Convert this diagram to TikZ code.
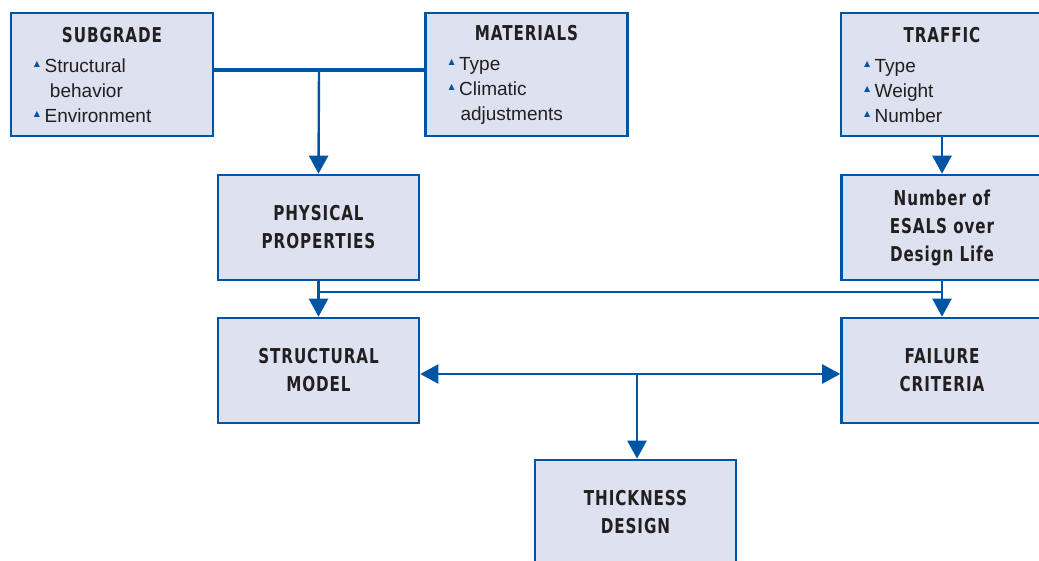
\documentclass[tikz,border=0pt]{standalone}
\usepackage{fontspec}
\setmainfont{Liberation Sans}
\newfontfamily\headfont[LetterSpace=6]{DejaVu Sans}
\newfontfamily\symfont{DejaVu Sans}
\usepackage{tikz}
\usetikzlibrary{arrows.meta}

\definecolor{edgeblue}{RGB}{0,84,164}
\definecolor{boxfill}{RGB}{221,225,240}
\definecolor{ink}{RGB}{35,31,32}

\newcommand{\head}[1]{\scalebox{0.74}[1]{\headfont\fontsize{20.5}{28}\selectfont\bfseries #1}}
\newcommand{\bul}{\raisebox{5.5pt}{\symfont\fontsize{8}{8}\selectfont\textcolor{edgeblue}{▲}}\hspace{4.5pt}}

\begin{document}
\begin{tikzpicture}[x=1pt, y=-1pt,
    box/.style={rectangle, draw=edgeblue, fill=boxfill, line width=2.6pt, text=ink, minimum width=201pt, minimum height=105pt, align=center, font=\fontsize{19}{28}\selectfont, inner sep=0pt},
    listbox/.style={box, minimum width=202pt, minimum height=123pt, align=left, text width=156pt, font=\fontsize{19}{25}\selectfont},
    link/.style={draw=edgeblue, line width=2.4pt},
    >={Triangle[length=18pt, width=19pt]}]
        \clip (0,0) rectangle (1039,561);
        % Nodes
        \node[listbox] (subgrade) at (112,74.5) {\makebox[156pt]{\head{SUBGRADE}}\\[5pt]\bul Structural\\\hspace{16pt}behavior\\\bul Environment};
        \node[listbox] (materials) at (526.5,74.5) {\makebox[156pt]{\head{MATERIALS}}\\[5pt]\bul Type\\\bul Climatic\\\hspace{12pt}adjustments};
        \node[listbox] (traffic) at (942,74.5) {\makebox[156pt]{\head{TRAFFIC}}\\[5pt]\bul Type\\\bul Weight\\\bul Number};
        \node[box] (physical) at (318.5,227.5) {\head{PHYSICAL}\\\head{PROPERTIES}};
        \node[box] (esals) at (942,227.5) {\head{Number of}\\\head{ESALS over}\\\head{Design Life}};
        \node[box] (structural) at (318.5,370.5) {\head{STRUCTURAL}\\\head{MODEL}};
        \node[box] (failure) at (942,370.5) {\head{FAILURE}\\\head{CRITERIA}};
        \node[box] (thickness) at (635.5,512.5) {\head{THICKNESS}\\\head{DESIGN}};
        % Junctions
        \coordinate (top join) at (319,70);
        \coordinate (mid join) at (319,292);
        \coordinate (low join) at (637,374);
        % Edges
        \draw[link, line width=4.5pt] (subgrade.east |- top join) -- (materials.west |- top join);
        \draw[link, ->] (top join) -- (physical.north);
        \draw[link, ->] (traffic.south) -- (esals.north);
        \draw[link, ->] (physical.south) -- (structural.north);
        \draw[link] (mid join) -- (esals.south |- mid join);
        \draw[link, ->] (esals.south) -- (failure.north);
        \draw[link, <->] (structural.east |- low join) -- (failure.west |- low join);
        \draw[link, ->] (low join) -- (low join |- thickness.north);
    \end{tikzpicture}
\end{document}
